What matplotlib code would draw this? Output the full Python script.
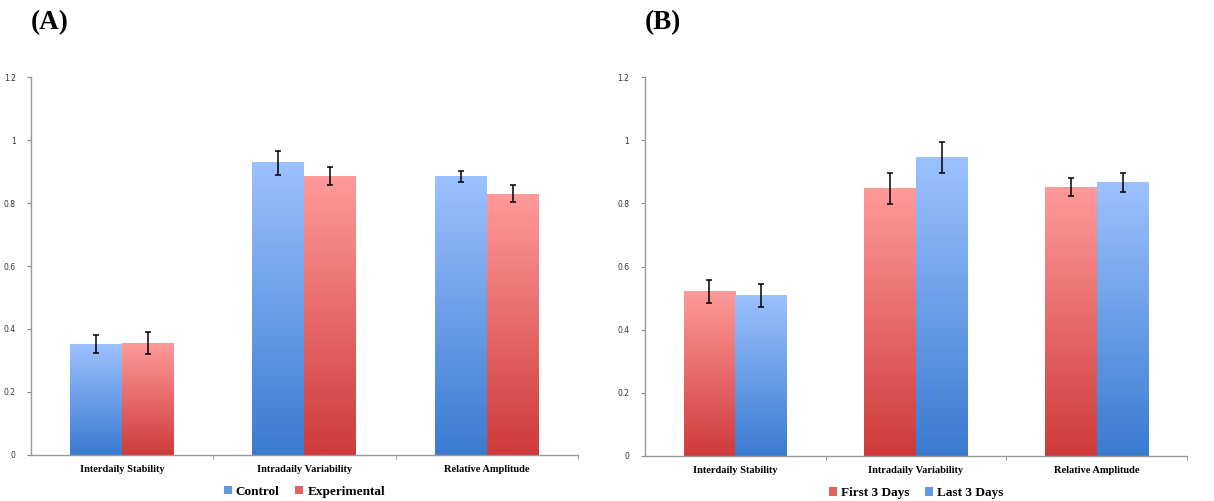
import numpy as np
import matplotlib.pyplot as plt
from matplotlib.patches import Patch
from matplotlib.colors import LinearSegmentedColormap

categories = ['Interdaily Stability', 'Intradaily Variability', 'Relative Amplitude']

# panel A
control = [0.352, 0.928, 0.885]
control_err = [0.028, 0.038, 0.018]
experimental = [0.355, 0.886, 0.829]
experimental_err = [0.036, 0.030, 0.027]

# panel B
first3 = [0.521, 0.848, 0.851]
first3_err = [0.037, 0.049, 0.029]
last3 = [0.508, 0.946, 0.867]
last3_err = [0.036, 0.049, 0.030]

blue_map = LinearSegmentedColormap.from_list('b', ['#3a7bd0', '#9cc1ff'])
red_map = LinearSegmentedColormap.from_list('r', ['#cf3a3a', '#ff9a9a'])
grad = np.linspace(0, 1, 256).reshape(-1, 1)

serif = 'Liberation Serif'


def gradient_bars(ax, x, vals, errs, cmap, w):
    for xi, v, e in zip(x, vals, errs):
        ax.imshow(grad, cmap=cmap, origin='lower', aspect='auto',
                  extent=(xi - w / 2, xi + w / 2, 0, v), zorder=2)
        ax.errorbar(xi, v, yerr=e, fmt='none', ecolor='black', elinewidth=1.1,
                    capsize=2.2, capthick=1.1, zorder=3)


def panel(ax, s1, e1, c1, s2, e2, c2, labels, tag):
    x = np.arange(len(categories))
    w = 0.285
    gradient_bars(ax, x - w / 2, s1, e1, c1, w)
    gradient_bars(ax, x + w / 2, s2, e2, c2, w)
    ax.set_xlim(-0.5, 2.5)
    ax.set_ylim(0, 1.2)
    ax.set_yticks([0, 0.2, 0.4, 0.6, 0.8, 1.0, 1.2])
    ax.set_yticklabels(['0', '0.2', '0.4', '0.6', '0.8', '1', '1.2'])
    ax.tick_params(axis='y', labelsize=5.5, length=3, color='#888888',
                   labelcolor='#333333', pad=8)
    ax.set_xticks(x)
    ax.set_xticklabels(categories, fontfamily=serif, fontweight='bold', fontsize=7.5)
    ax.set_xticks([0.5, 1.5, 2.5], minor=True)
    ax.tick_params(axis='x', which='major', length=0, pad=7)
    ax.tick_params(axis='x', which='minor', length=3, color='#888888')
    for s in ['top', 'right']:
        ax.spines[s].set_visible(False)
    for s in ['left', 'bottom']:
        ax.spines[s].set_color('#999999')
        ax.spines[s].set_linewidth(1.0)
    handles = [Patch(facecolor=c1(0.4), label=labels[0]),
               Patch(facecolor=c2(0.4), label=labels[1])]
    ax.legend(handles=handles, loc='center', bbox_to_anchor=(0.5, -0.098),
              ncol=2, frameon=False, handlelength=0.6, handleheight=0.6,
              handletextpad=0.3, columnspacing=1.2, borderpad=0.1,
              prop={'family': serif, 'weight': 'bold', 'size': 9.5})
    pos = ax.get_position()
    fig.text(pos.x0, 0.954, tag, fontfamily=serif, fontweight='bold',
             fontsize=19.5, va='center', ha='left')


fig = plt.figure(figsize=(12.14, 5.01), dpi=100)
axA = fig.add_axes([0.0255, 0.092, 0.4505, 0.754])
axB = fig.add_axes([0.531, 0.090, 0.447, 0.756])

panel(axA, control, control_err, blue_map, experimental, experimental_err, red_map,
      ['Control', 'Experimental'], '(A)')
panel(axB, first3, first3_err, red_map, last3, last3_err, blue_map,
      ['First 3 Days', 'Last 3 Days'], '(B)')

fig.savefig('out.png', dpi=100)
